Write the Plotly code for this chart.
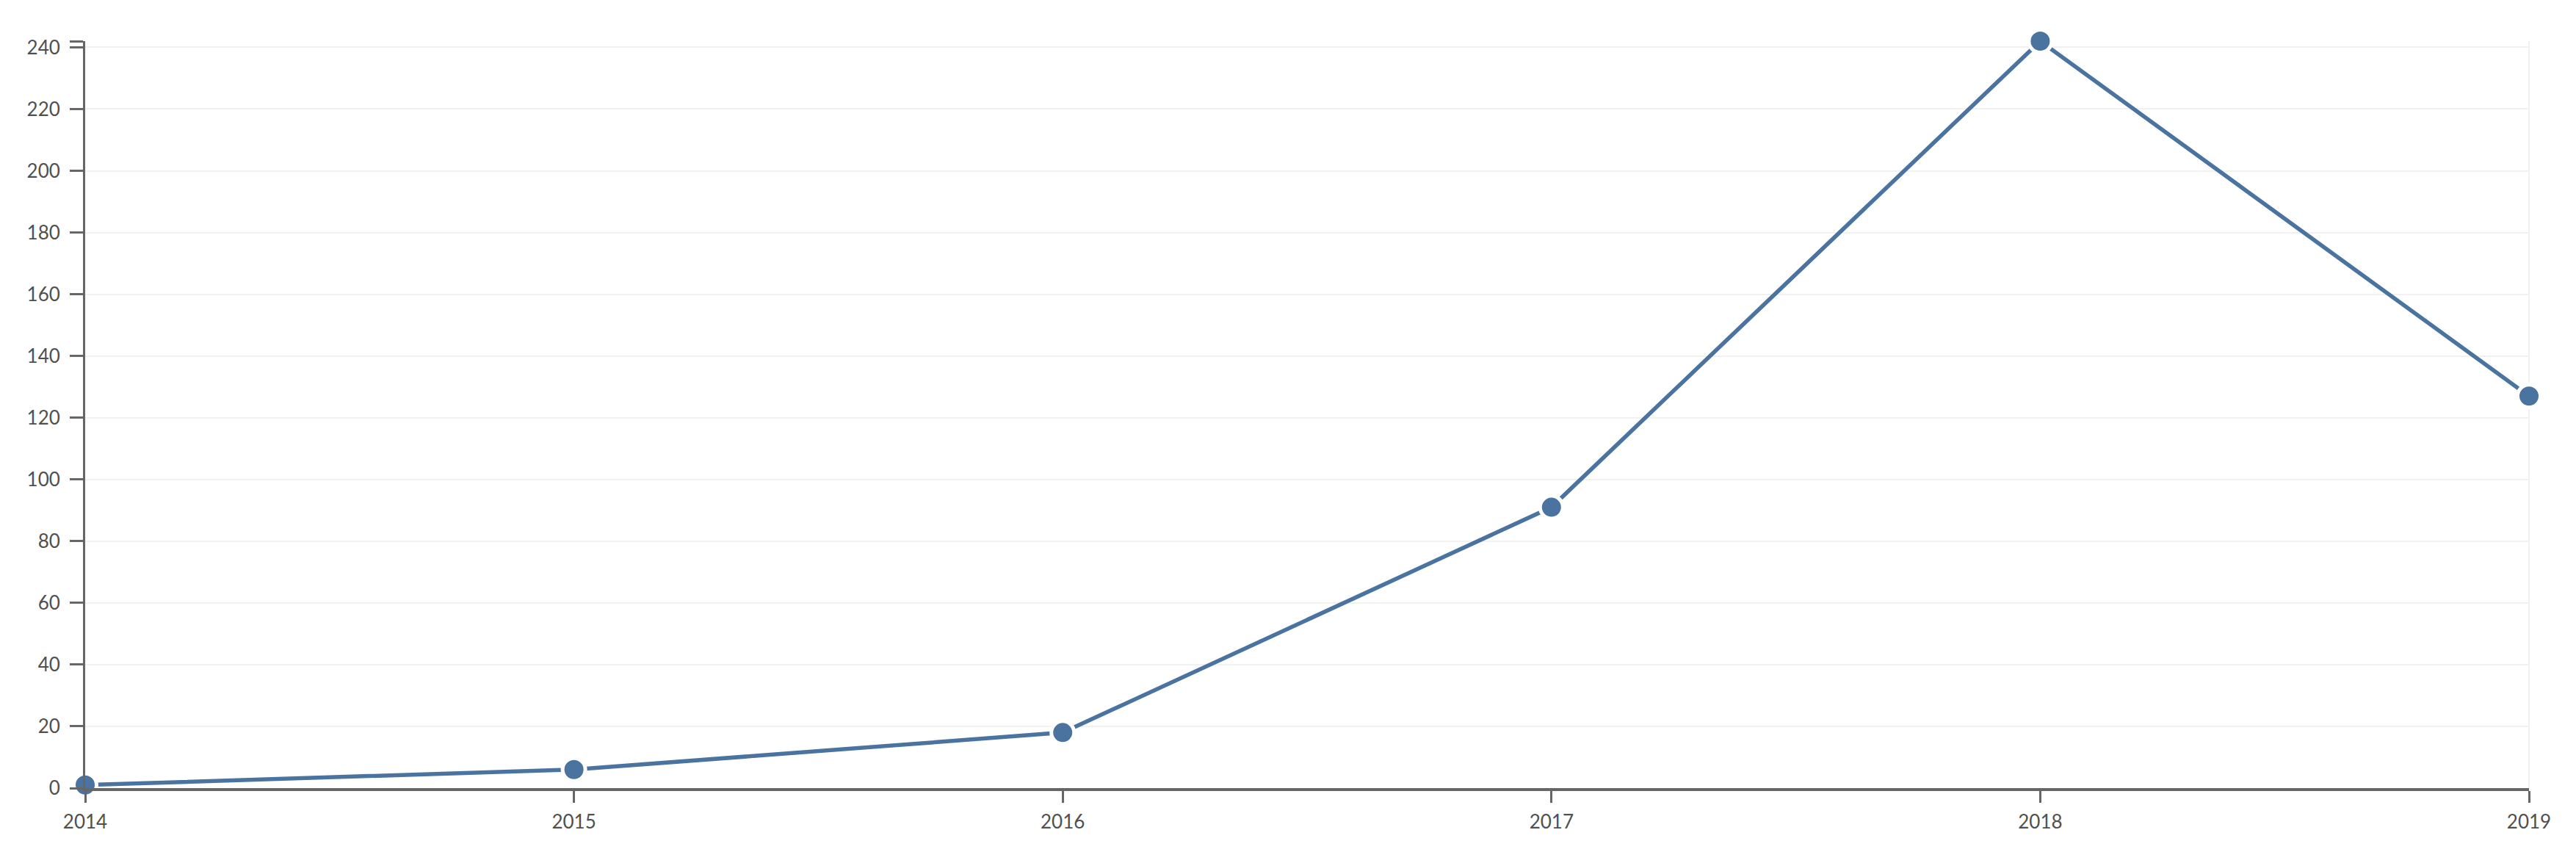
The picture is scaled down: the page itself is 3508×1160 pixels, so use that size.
import plotly.graph_objects as go

# Data
years = [2014, 2015, 2016, 2017, 2018, 2019]
counts = [1, 6, 18, 91, 242, 127]

y_tick_vals = [0, 20, 40, 60, 80, 100, 120, 140, 160, 180, 200, 220, 240, 242]
y_tick_text = ["0", "20", "40", "60", "80", "100", "120", "140", "160", "180",
               "200", "220", "240", ""]

LINE_COLOR = "#4a73a0"
AXIS_COLOR = "#666666"
GRID_COLOR = "#f1f1f1"
TEXT_COLOR = "#505050"

fig = go.Figure()

fig.add_trace(
    go.Scatter(
        x=years,
        y=counts,
        mode="lines+markers",
        line=dict(color=LINE_COLOR, width=5.5),
        marker=dict(size=31, color=LINE_COLOR, line=dict(color="white", width=5)),
        cliponaxis=False,
        hoverinfo="x+y",
    )
)

# Light border on the right edge of the plot area
fig.add_shape(
    type="line",
    xref="paper",
    yref="paper",
    x0=1,
    x1=1,
    y0=0,
    y1=1,
    line=dict(color=GRID_COLOR, width=2),
    layer="below",
)

fig.update_layout(
    width=3508,
    height=1160,
    margin=dict(l=108, r=72, t=48, b=95),
    plot_bgcolor="white",
    paper_bgcolor="white",
    showlegend=False,
    font=dict(family="Lato", size=26, color=TEXT_COLOR),
    xaxis=dict(
        range=[2014, 2019],
        tickmode="array",
        tickvals=years,
        ticktext=[str(y) for y in years],
        showgrid=False,
        zeroline=False,
        showline=True,
        linecolor=AXIS_COLOR,
        linewidth=4,
        ticks="outside",
        ticklen=16,
        tickwidth=3,
        tickcolor=AXIS_COLOR,
        ticklabelstandoff=4,
    ),
    yaxis=dict(
        range=[0, 242],
        tickmode="array",
        tickvals=y_tick_vals,
        ticktext=y_tick_text,
        showgrid=True,
        gridcolor=GRID_COLOR,
        gridwidth=2,
        zeroline=False,
        showline=True,
        linecolor=AXIS_COLOR,
        linewidth=3,
        ticks="outside",
        ticklen=18,
        tickwidth=3,
        tickcolor=AXIS_COLOR,
        ticklabelstandoff=8,
    ),
)

fig.write_html("out.html")
